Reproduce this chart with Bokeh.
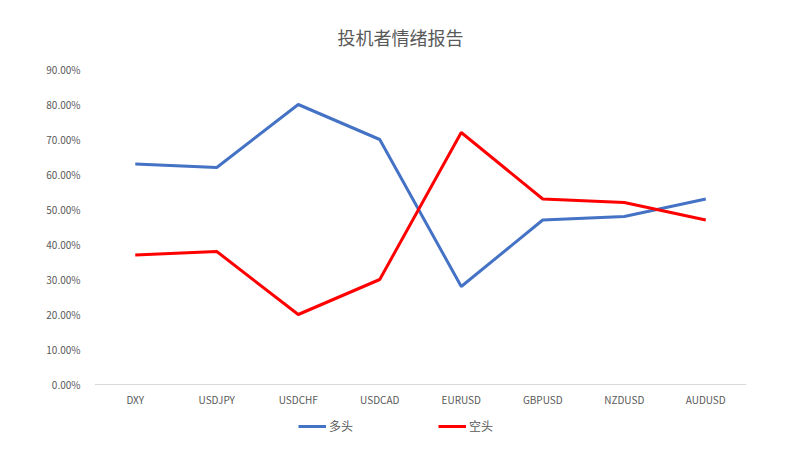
from bokeh.plotting import figure
from bokeh.models import (ColumnDataSource, Range1d, FixedTicker, NumeralTickFormatter,
                          Legend, LegendItem, Title)
from bokeh.embed import file_html
from bokeh.resources import INLINE

categories = ["DXY", "USDJPY", "USDCHF", "USDCAD", "EURUSD", "GBPUSD", "NZDUSD", "AUDUSD"]
long_vals = [0.63, 0.62, 0.80, 0.70, 0.28, 0.47, 0.48, 0.53]
short_vals = [0.37, 0.38, 0.20, 0.30, 0.72, 0.53, 0.52, 0.47]
y_ticks = [0.0, 0.1, 0.2, 0.3, 0.4, 0.5, 0.6, 0.7, 0.8, 0.9]
title_text = "投机者情绪报告"
long_name = "多头"
short_name = "空头"

FONT = "Noto Sans CJK SC"
GRAY = "#595959"

# layout: 0.9 at page y=69, 0 at y=384 -> 350 px per unit; frame extends to y=434 to host the legend
PX_PER_UNIT = 350.0
Y_MIN = -50.0 / PX_PER_UNIT

src = ColumnDataSource(dict(cat=categories, long=long_vals, short=short_vals))

p = figure(x_range=categories, y_range=Range1d(Y_MIN, 0.9),
           frame_width=652, frame_height=365,
           min_border_left=94, min_border_right=30, min_border_top=69, min_border_bottom=0,
           output_backend="svg", toolbar_location=None)
p.outline_line_color = None
p.background_fill_color = "white"
p.border_fill_color = "white"
p.xgrid.grid_line_color = None
p.ygrid.grid_line_color = None

r1 = p.line("cat", "long", source=src, line_color="#4472C4", line_width=3)
r2 = p.line("cat", "short", source=src, line_color="#FF0000", line_width=3)

p.yaxis.ticker = FixedTicker(ticks=y_ticks)
p.yaxis.formatter = NumeralTickFormatter(format="0.00%")
p.yaxis.axis_line_color = None
p.yaxis.major_tick_line_color = None
p.yaxis.minor_tick_line_color = None
p.yaxis.major_label_text_color = GRAY
p.yaxis.major_label_text_font = FONT
p.yaxis.major_label_text_font_size = "10px"
p.yaxis.major_label_standoff = 8

p.xaxis.fixed_location = 0
p.xaxis.axis_line_color = "#d9d9d9"
p.xaxis.axis_line_width = 1
p.xaxis.major_tick_line_color = None
p.xaxis.minor_tick_line_color = None
p.xaxis.major_label_text_color = GRAY
p.xaxis.major_label_text_font = FONT
p.xaxis.major_label_text_font_size = "10px"
p.xaxis.major_label_standoff = 1

p.title = Title(text=title_text, align="left", offset=243, standoff=40, text_font=FONT,
                text_font_size="18px", text_font_style="normal", text_color=GRAY)

legend = Legend(items=[LegendItem(label=long_name, renderers=[r1]),
                       LegendItem(label=short_name, renderers=[r2])],
                location=(204, 0), orientation="horizontal",
                padding=0, margin=0, spacing=85, glyph_width=28, glyph_height=14,
                label_standoff=3, border_line_color=None, background_fill_alpha=0,
                label_text_font=FONT, label_text_font_size="12px", label_text_color=GRAY)
p.add_layout(legend, "center")

open("out.html", "w").write(file_html(p, INLINE))
